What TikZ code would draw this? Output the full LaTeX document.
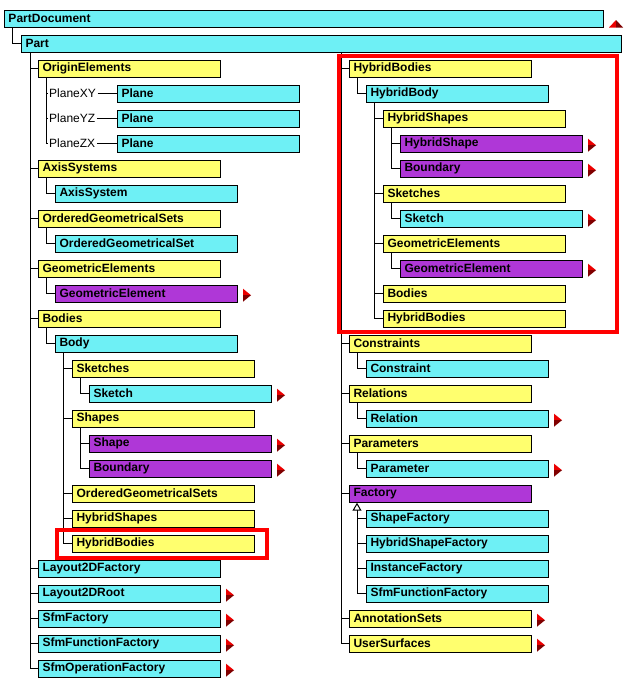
\documentclass[tikz,border=0pt]{standalone}
\usepackage{fontspec}
\setmainfont{Liberation Sans}
\usetikzlibrary{arrows.meta}
\definecolor{boxcyan}{RGB}{110,240,245}
\definecolor{boxyellow}{RGB}{255,255,110}
\definecolor{boxpurple}{RGB}{175,55,215}
\definecolor{mred}{RGB}{235,0,0}
\definecolor{mdark}{RGB}{128,0,0}
\newcommand{\ry}[1]{18.7+25*#1}

\begin{document}
\begin{tikzpicture}[x=1pt, y=-1pt,
  box/.style={draw, line width=1pt, anchor=west, minimum height=17pt, inner xsep=4pt, inner ysep=0pt, text width=174pt, align=left, font=\fontsize{12}{14}\selectfont\bfseries},
  cbox/.style={box, fill=boxcyan},
  ybox/.style={box, fill=boxyellow},
  pbox/.style={box, fill=boxpurple},
  lbl/.style={anchor=west, inner sep=1.5pt, font=\fontsize{12}{14}\selectfont},
  link/.style={line width=1pt},
  inherit/.style={line width=1pt, -{Triangle[open, width=9pt, length=8pt]}},
  hilite/.style={draw=red, line width=4pt},
  more/.pic={\fill[mred] (0,-5) -- (8,1.5) -- (0,1.5) -- cycle;
             \fill[mdark] (0,1.5) -- (8,1.5) -- (0,8) -- cycle;},
  upmore/.pic={\fill[mred] (5,8.8) -- (12,1.3) -- (12,8.8) -- cycle;
               \fill[mdark] (12,1.3) -- (19,8.8) -- (12,8.8) -- cycle;}
]
\useasboundingbox (0,0) rectangle (639,694);

\node[cbox, text width=591pt] (pdoc) at (4,{\ry{0}}) {PartDocument};
\node[cbox, text width=592pt] (part) at (21,{\ry{1}}) {Part};

\node[ybox] (oel) at (38,{\ry{2}}) {OriginElements};
\node[lbl] (pxyl) at (47.5,{\ry{3}}) {PlaneXY};
\node[lbl] (pyzl) at (47.5,{\ry{4}}) {PlaneYZ};
\node[lbl] (pzxl) at (47.5,{\ry{5}}) {PlaneZX};
\node[cbox] (plxy) at (117,{\ry{3}}) {Plane};
\node[cbox] (plyz) at (117,{\ry{4}}) {Plane};
\node[cbox] (plzx) at (117,{\ry{5}}) {Plane};
\node[ybox] (axs) at (38,{\ry{6}}) {AxisSystems};
\node[cbox] (ax) at (55,{\ry{7}}) {AxisSystem};
\node[ybox] (ogss) at (38,{\ry{8}}) {OrderedGeometricalSets};
\node[cbox] (ogs) at (55,{\ry{9}}) {OrderedGeometricalSet};
\node[ybox] (gels) at (38,{\ry{10}}) {GeometricElements};
\node[pbox] (gel) at (55,{\ry{11}}) {GeometricElement};
\node[ybox] (bods) at (38,{\ry{12}}) {Bodies};
\node[cbox] (body) at (55,{\ry{13}}) {Body};
\node[ybox] (skes) at (72,{\ry{14}}) {Sketches};
\node[cbox] (ske) at (89,{\ry{15}}) {Sketch};
\node[ybox] (shps) at (72,{\ry{16}}) {Shapes};
\node[pbox] (shp) at (89,{\ry{17}}) {Shape};
\node[pbox] (bnd) at (89,{\ry{18}}) {Boundary};
\node[ybox] (bogss) at (72,{\ry{19}}) {OrderedGeometricalSets};
\node[ybox] (bhss) at (72,{\ry{20}}) {HybridShapes};
\node[ybox] (bhbs) at (72,{\ry{21}}) {HybridBodies};
\node[cbox] (l2df) at (38,{\ry{22}}) {Layout2DFactory};
\node[cbox] (l2dr) at (38,{\ry{23}}) {Layout2DRoot};
\node[cbox] (sfmf) at (38,{\ry{24}}) {SfmFactory};
\node[cbox] (sfmff) at (38,{\ry{25}}) {SfmFunctionFactory};
\node[cbox] (sfmof) at (38,{\ry{26}}) {SfmOperationFactory};

\node[ybox] (hbs) at (349,{\ry{2}}) {HybridBodies};
\node[cbox] (hb) at (366,{\ry{3}}) {HybridBody};
\node[ybox] (hss) at (383,{\ry{4}}) {HybridShapes};
\node[pbox] (hs) at (400,{\ry{5}}) {HybridShape};
\node[pbox] (hbnd) at (400,{\ry{6}}) {Boundary};
\node[ybox] (hskes) at (383,{\ry{7}}) {Sketches};
\node[cbox] (hske) at (400,{\ry{8}}) {Sketch};
\node[ybox] (hgels) at (383,{\ry{9}}) {GeometricElements};
\node[pbox] (hgel) at (400,{\ry{10}}) {GeometricElement};
\node[ybox] (hbods) at (383,{\ry{11}}) {Bodies};
\node[ybox] (hhbs) at (383,{\ry{12}}) {HybridBodies};
\node[ybox] (cons) at (349,{\ry{13}}) {Constraints};
\node[cbox] (con) at (366,{\ry{14}}) {Constraint};
\node[ybox] (rels) at (349,{\ry{15}}) {Relations};
\node[cbox] (rel) at (366,{\ry{16}}) {Relation};
\node[ybox] (pars) at (349,{\ry{17}}) {Parameters};
\node[cbox] (par) at (366,{\ry{18}}) {Parameter};
\node[pbox] (fac) at (349,{\ry{19}}) {Factory};
\node[cbox] (shf) at (366,{\ry{20}}) {ShapeFactory};
\node[cbox] (hshf) at (366,{\ry{21}}) {HybridShapeFactory};
\node[cbox] (inf) at (366,{\ry{22}}) {InstanceFactory};
\node[cbox] (sfff) at (366,{\ry{23}}) {SfmFunctionFactory};
\node[ybox] (ans) at (349,{\ry{24}}) {AnnotationSets};
\node[ybox] (usf) at (349,{\ry{25}}) {UserSurfaces};

\coordinate (rt) at (341,0);
\coordinate (fbase) at ([xshift=8pt,yshift=-9pt]fac.south west);

\draw[link] ([xshift=8pt]pdoc.south west) |- (part.west);
\foreach \c in {oel,axs,ogss,gels,bods,l2df,l2dr,sfmf,sfmff,sfmof}
  \draw[link] ([xshift=9pt]part.south west) |- (\c.west);
\foreach \c in {hbs,cons,rels,pars,fac,ans,usf}
  \draw[link] (part.south -| rt) |- (\c.west);
\foreach \c in {pxyl,pyzl,pzxl}
  \draw[link] ([xshift=8pt]oel.south west) |- (\c.west);
\draw[link] (pxyl) -- (plxy);
\draw[link] (pyzl) -- (plyz);
\draw[link] (pzxl) -- (plzx);
\foreach \p/\c in {axs/ax,ogss/ogs,gels/gel,bods/body,body/skes,body/shps,body/bogss,body/bhss,body/bhbs,skes/ske,shps/shp,shps/bnd,hbs/hb,hb/hss,hb/hskes,hb/hgels,hb/hbods,hb/hhbs,hss/hs,hss/hbnd,hskes/hske,hgels/hgel,cons/con,rels/rel,pars/par}
  \draw[link] ([xshift=8pt]\p.south west) |- (\c.west);
\foreach \c in {shf,hshf,inf,sfff}
  \draw[link] (fbase) |- (\c.west);
\draw[inherit] (fbase) -- ([xshift=8pt]fac.south west);

\foreach \n in {gel,ske,shp,bnd,l2dr,sfmf,sfmff,sfmof,hs,hbnd,hske,hgel,rel,par,ans,usf}
  \pic at ([xshift=5pt]\n.east) {more};
\pic at (pdoc.east) {upmore};

\draw[hilite] (57,530) rectangle (267,558);
\draw[hilite] (339,56) rectangle (617,332);
\end{tikzpicture}
\end{document}
